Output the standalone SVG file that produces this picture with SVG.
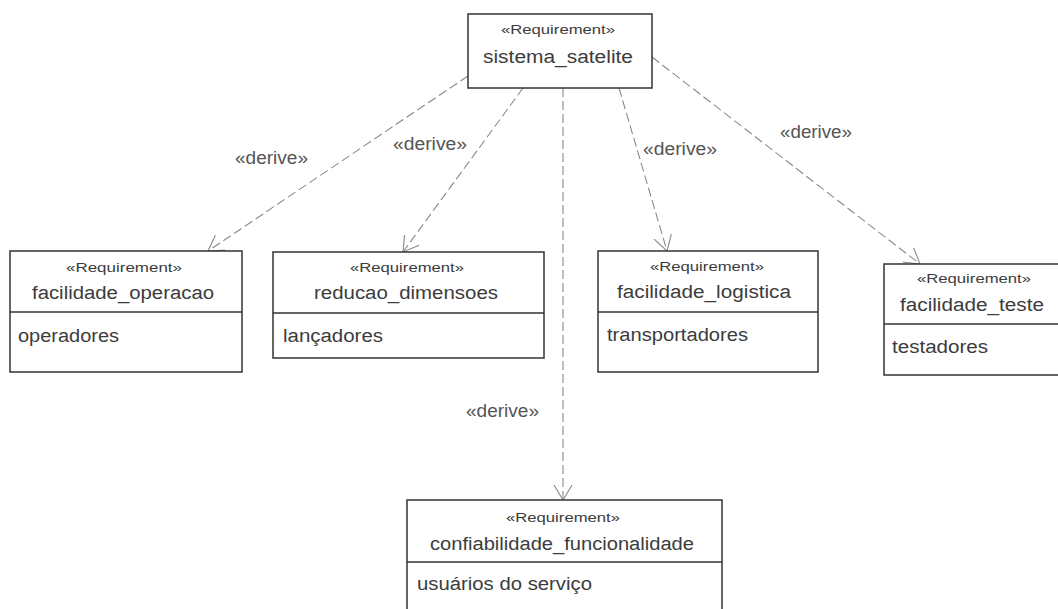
<svg xmlns="http://www.w3.org/2000/svg" width="1058" height="609" viewBox="0 0 1058 609">
  <defs>
    <style>
      .box { fill: #ffffff; stroke: #333333; stroke-width: 1.5; }
      .div { stroke: #333333; stroke-width: 1.5; }
      text { font-family: "Liberation Sans", Arial, sans-serif; fill: #3c3c3c; }
      .st { font-size: 12px; text-anchor: middle; }
      .nm { font-size: 18px; text-anchor: middle; }
      .at { font-size: 18px; text-anchor: start; }
      .lbl { font-size: 18px; text-anchor: start; fill: #555555; }
      .dep { fill: none; stroke: #8a8a8a; stroke-width: 1.1; stroke-dasharray: 9 4; }
    </style>
    <marker id="open" viewBox="0 0 15 20" refX="15" refY="10" markerWidth="15" markerHeight="20" markerUnits="userSpaceOnUse" orient="auto">
      <path d="M0,1 L15,10 L0,19" fill="none" stroke="#8a8a8a" stroke-width="1.1"/>
    </marker>
  </defs>

  <rect width="1058" height="609" fill="#ffffff"/>

  <!-- derive dependencies -->
  <g id="connectors">
    <line class="dep" x1="468" y1="76" x2="208" y2="251" marker-end="url(#open)"/>
    <line class="dep" x1="523" y1="88" x2="403" y2="252" marker-end="url(#open)"/>
    <line class="dep" x1="563" y1="88" x2="563" y2="500" marker-end="url(#open)"/>
    <line class="dep" x1="619" y1="88" x2="667" y2="251" marker-end="url(#open)"/>
    <line class="dep" x1="652" y1="57" x2="920" y2="264" marker-end="url(#open)"/>
    <text class="lbl" x="235" y="164" textLength="73" lengthAdjust="spacingAndGlyphs">«derive»</text>
    <text class="lbl" x="393" y="150" textLength="74" lengthAdjust="spacingAndGlyphs">«derive»</text>
    <text class="lbl" x="643" y="155" textLength="74" lengthAdjust="spacingAndGlyphs">«derive»</text>
    <text class="lbl" x="780" y="138" textLength="72" lengthAdjust="spacingAndGlyphs">«derive»</text>
    <text class="lbl" x="466" y="417" textLength="73" lengthAdjust="spacingAndGlyphs">«derive»</text>
  </g>

  <g id="sistema_satelite">
    <rect class="box" x="468" y="14" width="184" height="74"/>
    <text class="st" x="558" y="34" textLength="114" lengthAdjust="spacingAndGlyphs">«Requirement»</text>
    <text class="nm" x="558" y="63" textLength="150" lengthAdjust="spacingAndGlyphs">sistema_satelite</text>
  </g>

  <g id="facilidade_operacao">
    <rect class="box" x="10" y="251" width="232" height="121"/>
    <line class="div" x1="10" y1="312" x2="242" y2="312"/>
    <text class="st" x="124" y="272" textLength="116" lengthAdjust="spacingAndGlyphs">«Requirement»</text>
    <text class="nm" x="123" y="299" textLength="182" lengthAdjust="spacingAndGlyphs">facilidade_operacao</text>
    <text class="at" x="18" y="342" textLength="101" lengthAdjust="spacingAndGlyphs">operadores</text>
  </g>

  <g id="reducao_dimensoes">
    <rect class="box" x="273" y="252" width="271" height="106"/>
    <line class="div" x1="273" y1="313" x2="544" y2="313"/>
    <text class="st" x="407" y="272" textLength="114" lengthAdjust="spacingAndGlyphs">«Requirement»</text>
    <text class="nm" x="406" y="299" textLength="184" lengthAdjust="spacingAndGlyphs">reducao_dimensoes</text>
    <text class="at" x="283" y="342" textLength="100" lengthAdjust="spacingAndGlyphs">lançadores</text>
  </g>

  <g id="facilidade_logistica">
    <rect class="box" x="598" y="251" width="220" height="121"/>
    <line class="div" x1="598" y1="312" x2="818" y2="312"/>
    <text class="st" x="707" y="271" textLength="114" lengthAdjust="spacingAndGlyphs">«Requirement»</text>
    <text class="nm" x="704" y="298" textLength="174" lengthAdjust="spacingAndGlyphs">facilidade_logistica</text>
    <text class="at" x="607" y="341" textLength="141" lengthAdjust="spacingAndGlyphs">transportadores</text>
  </g>

  <g id="facilidade_teste">
    <rect class="box" x="884" y="264" width="180" height="111"/>
    <line class="div" x1="884" y1="324" x2="1064" y2="324"/>
    <text class="st" x="974" y="283" textLength="114" lengthAdjust="spacingAndGlyphs">«Requirement»</text>
    <text class="nm" x="972" y="311" textLength="144" lengthAdjust="spacingAndGlyphs">facilidade_teste</text>
    <text class="at" x="892" y="353" textLength="96" lengthAdjust="spacingAndGlyphs">testadores</text>
  </g>

  <g id="confiabilidade_funcionalidade">
    <rect class="box" x="407" y="500" width="315" height="130"/>
    <line class="div" x1="407" y1="562" x2="722" y2="562"/>
    <text class="st" x="563" y="522" textLength="114" lengthAdjust="spacingAndGlyphs">«Requirement»</text>
    <text class="nm" x="562" y="550" textLength="264" lengthAdjust="spacingAndGlyphs">confiabilidade_funcionalidade</text>
    <text class="at" x="417" y="590" textLength="175" lengthAdjust="spacingAndGlyphs">usuários do serviço</text>
  </g>
</svg>
